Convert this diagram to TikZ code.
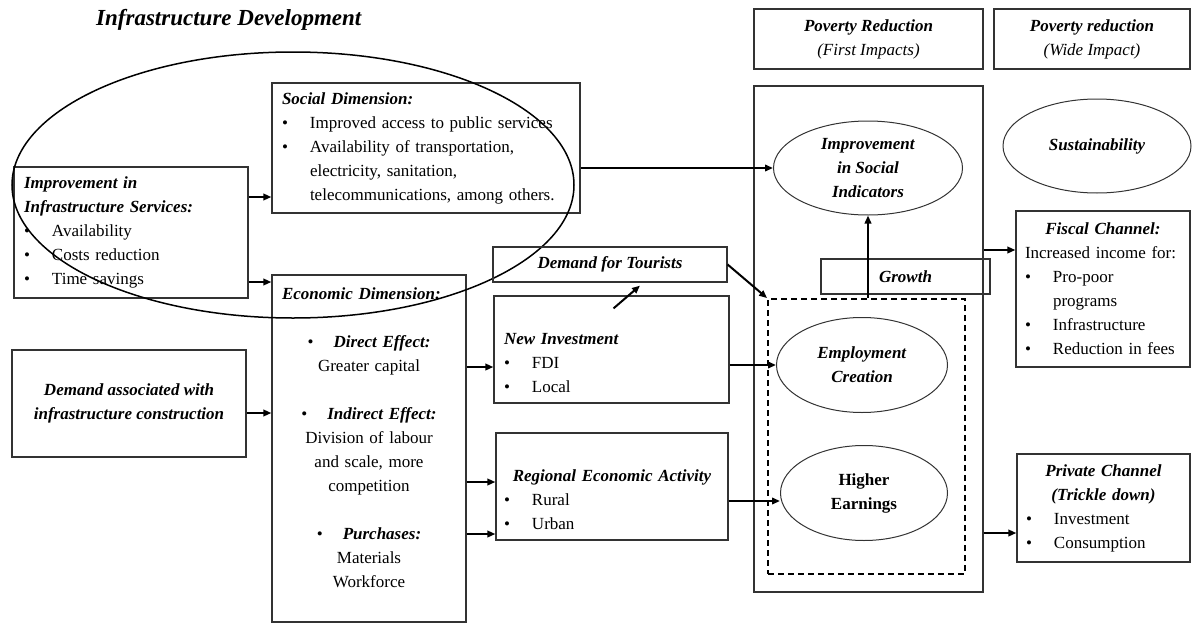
\documentclass[tikz,border=0pt]{standalone}
\usepackage{fontspec}
\setmainfont{Liberation Serif}
\usetikzlibrary{shapes.geometric,arrows.meta}
\newcommand{\hd}[1]{\textbf{\textit{#1}}}
\newcommand{\itm}[1]{\makebox[28pt][l]{\textbullet}#1}
\newcommand{\itmcont}{\hspace*{28pt}}

\begin{document}
\begin{tikzpicture}[x=1pt, y=-1pt, font=\fontsize{17}{24}\selectfont,
  box/.style={draw=black!80, line width=1.2pt, inner sep=0pt},
  lbox/.style={box, align=left, inner xsep=10pt},
  oval/.style={draw=black!80, line width=1pt, ellipse, inner sep=0pt, align=center},
  arr/.style={line width=2pt, -{Triangle[length=8pt,width=6.5pt]}}]
\useasboundingbox (0,0) rectangle (1192,624);
\node[anchor=west, inner sep=0pt, font=\fontsize{23}{27}\selectfont] (ttl) at (96,20) {\hd{Infrastructure Development}};
% Infrastructure side
\node[lbox, text width=214pt, minimum height=131pt] (imp) at (131,232.5) {\hd{Improvement in}\\ \hd{Infrastructure Services:}\\ \itm{Availability}\\ \itm{Costs reduction}\\ \itm{Time savings}};
\node[lbox, text width=288pt, minimum height=130pt] (soc) at (426,148) {\hd{Social Dimension:}\\ \itm{Improved access to public services}\\ \itm{Availability of transportation,}\\ \itmcont electricity, sanitation,\\ \itmcont telecommunications, among others.};
\node[box, align=center, minimum width=234pt, minimum height=107pt] (dem) at (129,403.5) {\hd{Demand associated with}\\ \hd{infrastructure construction}};
\node[box, minimum width=194pt, minimum height=347pt] (eco) at (369,448.5) {};
\node[align=center, text width=174pt, inner sep=0pt] (ecotx) at (369,438) {\makebox[\hsize][l]{\hd{Economic Dimension:}}\\ \mbox{}\\
  \textbullet\hspace{20pt}\hd{Direct Effect:}\\ Greater capital\\ \mbox{}\\
  \textbullet\hspace{20pt}\hd{Indirect Effect:}\\ Division of labour\\ and scale, more\\ competition\\ \mbox{}\\
  \textbullet\hspace{20pt}\hd{Purchases:}\\ Materials\\ Workforce};
\draw[line width=1.5pt] (293,185) ellipse [x radius=281, y radius=133];
% Channels
\node[box, align=center, minimum width=234pt, minimum height=35pt] (tour) at (610,264.5) {\hd{Demand for Tourists}};
\node[box, minimum width=235pt, minimum height=107pt] (inv) at (611.5,349.5) {};
\node[align=left, text width=215pt, inner sep=0pt] (invtx) at (611.5,363) {\hd{New Investment}\\ \itm{FDI}\\ \itm{Local}};
\node[box, minimum width=232pt, minimum height=107pt] (reg) at (612,486.5) {};
\node[align=left, text width=216pt, inner sep=0pt] (regtx) at (612,500) {\makebox[\hsize]{\hd{Regional Economic Activity}}\\ \itm{Rural}\\ \itm{Urban}};
% First impacts
\node[box, align=center, minimum width=229pt, minimum height=60pt] (pov1) at (868.5,39) {\hd{Poverty Reduction}\\ \textit{(First Impacts)}};
\node[box, minimum width=229pt, minimum height=506pt] (outer) at (868.5,339) {};
\node[draw, line width=1.8pt, dash pattern=on 6pt off 4pt, minimum width=197pt, minimum height=275pt, inner sep=0pt] (dash) at (866.5,436.5) {};
\node[oval, minimum width=189pt, minimum height=94pt] (socind) at (868,168) {\hd{Improvement}\\ \hd{in Social}\\ \hd{Indicators}};
\node[box, minimum width=169pt, minimum height=35pt] (grow) at (905.5,276.5) {\hd{Growth}};
\node[oval, minimum width=171pt, minimum height=95pt] (emp) at (862,365) {\hd{Employment}\\ \hd{Creation}};
\node[oval, minimum width=167pt, minimum height=95pt] (earn) at (864,493) {\textbf{Higher}\\ \textbf{Earnings}};
% Wide impact
\node[box, align=center, minimum width=196pt, minimum height=60pt] (pov2) at (1092,39) {\hd{Poverty reduction}\\ \textit{(Wide Impact)}};
\node[oval, minimum width=188pt, minimum height=94pt] (sust) at (1097,146) {\hd{Sustainability}};
\node[lbox, inner xsep=9pt, text width=156pt, minimum height=156pt] (fis) at (1103,289) {\makebox[\hsize]{\hd{Fiscal Channel:}}\\ Increased income for:\\ \itm{Pro-poor}\\ \itmcont programs\\ \itm{Infrastructure}\\ \itm{Reduction in fees}};
\node[lbox, inner xsep=9pt, text width=155pt, minimum height=108pt] (priv) at (1103.5,508) {\makebox[\hsize]{\hd{Private Channel}}\\ \makebox[\hsize]{\hd{(Trickle down)}}\\ \itm{Investment}\\ \itm{Consumption}};
% Arrows
\draw[arr] (imp.east |- 0,197) -- (soc.west |- 0,197);
\draw[arr] (imp.east |- 0,282) -- (eco.west |- 0,282);
\draw[arr] (dem.east |- 0,413) -- (eco.west |- 0,413);
\draw[arr] (eco.east |- 0,367) -- (inv.west |- 0,367);
\draw[arr] (eco.east |- 0,482) -- (reg.west |- 0,482);
\draw[arr] (eco.east |- 0,534) -- (reg.west |- 0,534);
\draw[arr] ([shift={(2pt,-13pt)}]inv.north) -- ([shift={(30pt,-3pt)}]tour.south);
\draw[arr] (tour.east) -- (dash.north west);
\draw[arr] (inv.east |- emp.west) -- (emp.west);
\draw[arr] (reg.east |- 0,501) -- (earn.west |- 0,501);
\draw[arr] (soc.east |- socind.west) -- (socind.west);
\draw[arr] (socind.south |- dash.north) -- (socind.south);
\draw[arr] (outer.east |- 0,250) -- (fis.west |- 0,250);
\draw[arr] (outer.east |- 0,533) -- (priv.west |- 0,533);
\end{tikzpicture}
\end{document}
